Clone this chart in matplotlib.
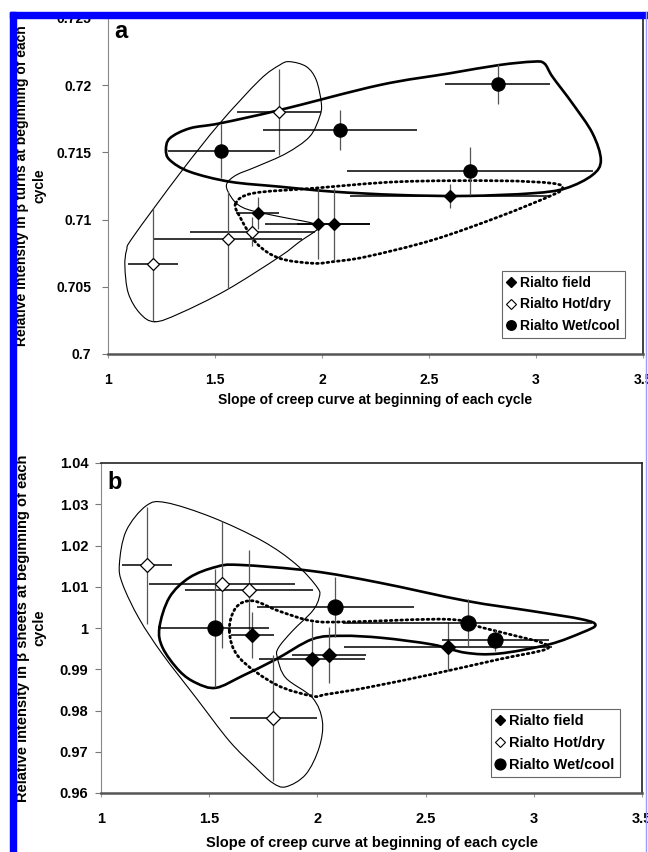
import numpy as np
import matplotlib
matplotlib.use('Agg')
import matplotlib.pyplot as plt
from matplotlib.path import Path
from matplotlib.patches import PathPatch, Rectangle
from matplotlib.lines import Line2D
from matplotlib.ticker import FuncFormatter, MultipleLocator

plt.rcParams['font.family'] = ['Liberation Sans', 'DejaVu Sans']
plt.rcParams['font.weight'] = 'bold'

# ---- panel a: beta turns ----
field_x_a = [1.70, 1.98, 2.055, 2.60]
field_y_a = [0.7105, 0.70965, 0.70965, 0.71176]
field_xerr_a = [0.10, 0.245, 0.17, 0.47]
field_yerr_a = [0.0012, 0.0026, 0.0027, 0.0009]

hot_x_a = [1.21, 1.56, 1.675, 1.80]
hot_y_a = [0.70667, 0.70853, 0.7091, 0.71803]
hot_xerr_a = [0.118, 0.346, 0.292, 0.195]
hot_yerr_a = [0.0042, 0.0036, 0.0011, 0.0032]

wet_x_a = [1.53, 2.082, 2.693, 2.821]
wet_y_a = [0.7151, 0.71667, 0.71362, 0.72007]
wet_xerr_a = [0.25, 0.36, 0.575, 0.245]
wet_yerr_a = [0.0020, 0.0015, 0.0018, 0.0015]

# hand drawn group outlines (closed, smoothed when drawn)
hot_loop_x_a = [1.219, 1.149, 1.095, 1.079, 1.087, 1.118, 1.336, 1.522, 1.709, 1.802,
                1.849, 1.927, 1.973, 1.997, 1.989, 1.942, 1.833, 1.694, 1.600, 1.556,
                1.561, 1.600, 1.662, 1.802, 1.958, 1.979, 1.896, 1.802, 1.554, 1.336]
hot_loop_y_a = [0.70240, 0.70303, 0.70452, 0.70650, 0.70774, 0.70873, 0.71344, 0.71716,
                0.72039, 0.72150, 0.72175, 0.72138, 0.72039, 0.71865, 0.71766, 0.71617,
                0.71493, 0.71394, 0.71332, 0.71270, 0.71208, 0.71121, 0.71071, 0.71022,
                0.70972, 0.70930, 0.70836, 0.70724, 0.70476, 0.70303]

wet_loop_x_a = [1.271, 1.289, 1.382, 1.522, 1.802, 2.269, 2.595, 2.828, 2.984, 3.038,
                3.077, 3.170, 3.264, 3.303, 3.264, 3.139, 2.984, 2.673, 2.362, 2.051,
                1.802, 1.569, 1.382, 1.289]
wet_loop_y_a = [0.71518, 0.71605, 0.71679, 0.71716, 0.71815, 0.72001, 0.72088, 0.72150,
                0.72175, 0.72163, 0.72063, 0.71865, 0.71642, 0.71443, 0.71332, 0.71233,
                0.71196, 0.71176, 0.71183, 0.71208, 0.71245, 0.71282, 0.71356, 0.71443]

field_loop_x_a = [1.597, 1.678, 1.958, 2.362, 2.828, 3.077, 3.124, 3.077, 2.828, 2.517,
                  2.207, 2.051, 1.958, 1.802, 1.694, 1.616]
field_loop_y_a = [0.71121, 0.71196, 0.71233, 0.71282, 0.71289, 0.71270, 0.71233, 0.71183,
                  0.71022, 0.70848, 0.70724, 0.70687, 0.70675, 0.70712, 0.70824, 0.71022]

# ---- panel b: beta sheets ----
field_x_b = [1.70, 1.977, 2.054, 2.603]
field_y_b = [0.9983, 0.9924, 0.99345, 0.99547]
field_xerr_b = [0.10, 0.245, 0.17, 0.48]
field_yerr_b = [0.0056, 0.0090, 0.0067, 0.0060]

hot_x_b = [1.213, 1.559, 1.685, 1.796]
hot_y_b = [1.0152, 1.0106, 1.0092, 0.9781]
hot_xerr_b = [0.117, 0.339, 0.296, 0.20]
hot_yerr_b = [0.0142, 0.0154, 0.0098, 0.0153]

wet_x_b = [1.528, 2.082, 2.695, 2.823]
wet_y_b = [1.0000, 1.0051, 1.0013, 0.9970]
wet_xerr_b = [0.25, 0.363, 0.575, 0.246]
wet_yerr_b = [0.0144, 0.0072, 0.0057, 0.0025]

hot_loop_x_b = [1.085, 1.116, 1.208, 1.300, 1.515, 1.746, 1.900, 2.000, 2.008, 1.977,
                1.885, 1.820, 1.815, 1.854, 1.977, 2.023, 2.008, 1.946, 1.854, 1.792,
                1.716, 1.593, 1.439, 1.285, 1.177, 1.100]
hot_loop_y_b = [1.0155, 1.0235, 1.0296, 1.0304, 1.0268, 1.0211, 1.0155, 1.0098, 1.0074,
                1.0041, 0.9993, 0.9952, 0.9928, 0.9879, 0.9831, 0.9774, 0.9710, 0.9645,
                0.9615, 0.9625, 0.9661, 0.9726, 0.9831, 0.9936, 1.0022, 1.0106]

wet_loop_x_b = [1.270, 1.316, 1.408, 1.531, 1.639, 1.977, 2.285, 2.685, 2.992, 3.223,
                3.285, 3.223, 3.069, 2.838, 2.685, 2.531, 2.300, 2.115, 1.977, 1.808,
                1.654, 1.531, 1.439, 1.362, 1.285]
wet_loop_y_b = [1.0001, 1.0074, 1.0122, 1.0148, 1.0153, 1.0138, 1.0110, 1.0066, 1.0041,
                1.0021, 1.0007, 0.9989, 0.9960, 0.9938, 0.9940, 0.9960, 0.9976, 0.9981,
                0.9973, 0.9924, 0.9884, 0.9855, 0.9867, 0.9896, 0.9952]

field_loop_x_b = [1.593, 1.623, 1.700, 1.823, 1.977, 2.146, 2.608, 2.761, 2.916, 3.038,
                  3.054, 2.838, 2.531, 2.223, 2.039, 1.977, 1.808, 1.639]
field_loop_y_b = [0.9993, 1.0049, 1.0066, 1.0041, 1.0017, 1.0015, 1.0021, 1.0001, 0.9981,
                  0.9964, 0.9948, 0.9924, 0.9888, 0.9855, 0.9839, 0.9835, 0.9863, 0.9928]

labels = ['Rialto field', 'Rialto Hot/dry', 'Rialto Wet/cool']
x_ticks = [1, 1.5, 2, 2.5, 3, 3.5]

DOTTED = (0, (0.6, 1.3))


def closed_curve(xs, ys):
    """Closed Catmull-Rom outline expressed as cubic Bezier segments."""
    p = np.column_stack([xs, ys])
    n = len(p)
    verts = [p[0]]
    codes = [Path.MOVETO]
    for i in range(n):
        p0, p1, p2, p3 = p[i - 1], p[i], p[(i + 1) % n], p[(i + 2) % n]
        verts += [p1 + (p2 - p0) / 6.0, p2 - (p3 - p1) / 6.0, p2]
        codes += [Path.CURVE4] * 3
    return Path(verts, codes)


def fmt_tick(v, _):
    return f'{v:g}'


def draw_panel(ax, groups, loops, ylim, ystep, letter, ylabel, ms, fs, leg_anchor,
               ylab_x, xlab_y, ytick_pad):
    # group outlines
    for (lx, ly), lw, ls in loops:
        ax.add_patch(PathPatch(closed_curve(lx, ly), fill=False, edgecolor='black',
                               lw=lw, linestyle=ls, zorder=2, capstyle='round'))

    # error bars then markers
    for x, y, xe, ye, marker, fc, size in groups:
        ax.errorbar(x, y, xerr=xe, fmt='none', ecolor='black', elinewidth=1.1,
                    capsize=0, zorder=3)
        ax.errorbar(x, y, yerr=ye, fmt='none', ecolor='#555555', elinewidth=0.9,
                    capsize=0, zorder=3)
        ax.plot(x, y, ls='none', marker=marker, ms=size, mfc=fc, mec='black',
                mew=0.9, zorder=5)

    ax.set_xlim(1, 3.5)
    ax.set_ylim(*ylim)
    ax.set_xticks(x_ticks)
    ax.yaxis.set_major_locator(MultipleLocator(ystep))
    ax.xaxis.set_major_formatter(FuncFormatter(fmt_tick))
    ax.yaxis.set_major_formatter(FuncFormatter(fmt_tick))
    ax.tick_params(axis='x', direction='out', length=3, width=0.8, color='#999999',
                   pad=11, labelsize=fs)
    ax.tick_params(axis='y', direction='out', length=4, width=0.8, color='#777777',
                   pad=ytick_pad, labelsize=fs)
    for t in ax.get_xticklabels() + ax.get_yticklabels():
        t.set_fontweight('bold')

    ax.spines['left'].set_color('#888888')
    ax.spines['left'].set_linewidth(0.8)
    ax.spines['bottom'].set_color('#555555')
    ax.spines['bottom'].set_linewidth(1.8)
    for side in ('top', 'right'):
        ax.spines[side].set_color('#222222')
        ax.spines[side].set_linewidth(1.2)

    ax.text(0.012, letter[1], letter[0], transform=ax.transAxes, fontsize=17,
            fontweight='bold', ha='left', va='baseline')

    ax.set_xlabel('Slope of creep curve at beginning of each cycle', fontsize=fs,
                  fontweight='bold')
    ax.xaxis.set_label_coords(0.5, xlab_y)
    ax.xaxis.label.set_verticalalignment('center')
    ax.set_ylabel(ylabel, fontsize=fs, fontweight='bold', linespacing=1.3)
    ax.yaxis.set_label_coords(ylab_x, 0.5)
    ax.yaxis.label.set_verticalalignment('center')

    handles = [
        Line2D([], [], ls='none', marker='D', ms=ms[0] * 0.75, mfc='black', mec='black'),
        Line2D([], [], ls='none', marker='D', ms=ms[0] * 0.75, mfc='white', mec='black',
               mew=0.8),
        Line2D([], [], ls='none', marker='o', ms=ms[1] * 0.72, mfc='black', mec='black'),
    ]
    leg = ax.legend(handles, labels, loc='lower right', bbox_to_anchor=leg_anchor,
                    fancybox=False, framealpha=1, edgecolor='#666666',
                    prop={'weight': 'bold', 'size': fs}, handlelength=0.6,
                    handletextpad=0.35, borderpad=0.35, labelspacing=0.55,
                    borderaxespad=0)
    leg.get_frame().set_linewidth(0.8)
    leg.set_zorder(6)


fig = plt.figure(figsize=(6.48, 8.52), dpi=100)
W, H = 648.0, 852.0

ax_a = fig.add_axes([108 / W, 1 - 354 / H, 535 / W, 336 / H])
draw_panel(
    ax_a,
    groups=[
        (field_x_a, field_y_a, field_xerr_a, field_yerr_a, 'D', 'black', 6.3),
        (hot_x_a, hot_y_a, hot_xerr_a, hot_yerr_a, 'D', 'white', 6.6),
        (wet_x_a, wet_y_a, wet_xerr_a, wet_yerr_a, 'o', 'black', 9.5),
    ],
    loops=[
        ((hot_loop_x_a, hot_loop_y_a), 0.8, '-'),
        ((wet_loop_x_a, wet_loop_y_a), 1.9, '-'),
        ((field_loop_x_a, field_loop_y_a), 2.0, DOTTED),
    ],
    ylim=(0.7, 0.725), ystep=0.005, letter=('a', 0.94),
    ylabel='Relative intensity in \u03b2 turns at beginning of each\ncycle',
    ms=(6.3, 9.5), fs=10, leg_anchor=(0.966, 0.048),
    ylab_x=-0.144, xlab_y=-0.137, ytick_pad=8,
)

ax_b = fig.add_axes([101 / W, 1 - 793 / H, 541 / W, 330 / H])
draw_panel(
    ax_b,
    groups=[
        (field_x_b, field_y_b, field_xerr_b, field_yerr_b, 'D', 'black', 7.0),
        (hot_x_b, hot_y_b, hot_xerr_b, hot_yerr_b, 'D', 'white', 6.8),
        (wet_x_b, wet_y_b, wet_xerr_b, wet_yerr_b, 'o', 'black', 10.8),
    ],
    loops=[
        ((hot_loop_x_b, hot_loop_y_b), 0.8, '-'),
        ((wet_loop_x_b, wet_loop_y_b), 1.9, '-'),
        ((field_loop_x_b, field_loop_y_b), 2.0, DOTTED),
    ],
    ylim=(0.96, 1.04), ystep=0.01, letter=('b', 0.921),
    ylabel='Relative intensity in \u03b2 sheets at beginning of each\ncycle',
    ms=(7.0, 10.8), fs=10.5, leg_anchor=(0.959, 0.048),
    ylab_x=-0.129, xlab_y=-0.1515, ytick_pad=5,
)

# page frame around the figure
fig.add_artist(Rectangle((0, 1 - 12 / H), 1, 12 / H, transform=fig.transFigure,
                         color='white', zorder=20))
fig.add_artist(Rectangle((0, 0), 10 / W, 1, transform=fig.transFigure,
                         color='white', zorder=20))
fig.add_artist(Rectangle((10 / W, 1 - 18 / H), 1 - 10 / W, 6 / H, transform=fig.transFigure,
                         color='#0000ff', zorder=21))
fig.add_artist(Rectangle((10 / W, 0), 6 / W, 1 - 12 / H, transform=fig.transFigure,
                         color='#0000ff', zorder=21))
fig.add_artist(Line2D([646 / W, 646 / W], [0, 1 - 12 / H], transform=fig.transFigure,
                      color='#9a9aff', lw=1.0, zorder=21))

fig.savefig('out.png', dpi=100)
